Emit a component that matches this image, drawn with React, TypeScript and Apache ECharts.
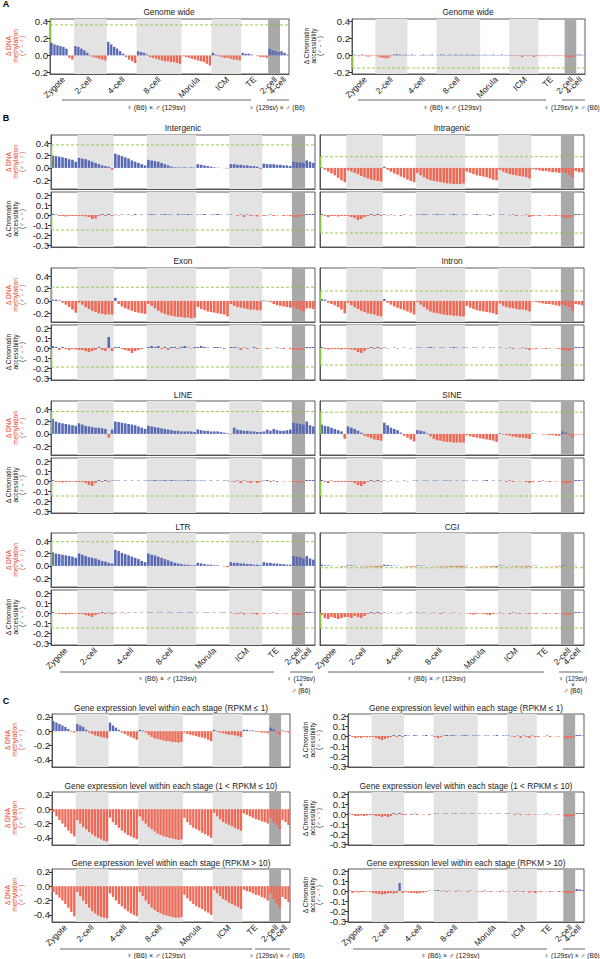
import React, { useEffect, useRef } from "react";
import * as echarts from "echarts";

const FONT = "'Liberation Sans', Arial, Helvetica, sans-serif";
const BLUE = "#5869b4";
const RED = "#ee6a56";
const GREEN = "#8cc63f";
const LIGHT = "#e3e3e3";
const DARK = "#a9a9a9";
const FRAME = "#4a4a4a";
const TEXT = "#222222";
const ORANGE_RED = "#e8452c";

const STAGE_LABELS = ["Zygote", "2-cell", "4-cell", "8-cell", "Morula", "ICM", "TE", "2-cell", "4-cell"];
const STAGE_COUNTS = [8, 11, 10, 15, 10, 10, 9, 4, 3];
const LIGHT_STAGES = [1, 3, 5];
const DARK_STAGES = [7];

const METH_TICKS = [-0.2, 0, 0.2, 0.4];
const ACC_TICKS = [-0.3, -0.2, -0.1, 0, 0.1, 0.2];
const C_METH_TICKS = [-0.4, -0.2, 0, 0.2];

// ---------- Panel A : genome wide ----------
const genomeMeth = [
  [0.15, 0.13, 0.12, 0.11, 0.1, 0.08, -0.03, -0.05],
  [0.11, 0.1, 0.08, 0.06, 0.03, -0.01, -0.02, -0.03, -0.04, -0.05, -0.06],
  [0.16, 0.13, 0.1, 0.08, 0.05, 0.02, -0.02, -0.05, -0.07, -0.09],
  [0.05, 0.04, 0.03, 0.01, -0.02, -0.03, -0.04, -0.05, -0.06, -0.07, -0.07, -0.08, -0.08, -0.09, -0.1],
  [-0.01, -0.02, -0.03, -0.04, -0.05, -0.06, -0.07, -0.08, -0.1, -0.12],
  [0.03, 0.01, -0.01, -0.02, -0.03, -0.03, -0.04, -0.05, -0.05, -0.06],
  [0.03, 0.02, 0.02, 0.01, 0.0, -0.01, -0.02, -0.02, -0.03],
  [0.08, 0.06, 0.05, 0.04],
  [0.05, 0.03, 0.01],
];
const genomeAcc = [
  [0.01, 0.005, -0.01, 0.01, -0.01, -0.015, -0.01, -0.005],
  [-0.01, -0.02, -0.03, -0.035, -0.03, -0.01, 0.01, 0.015, 0.01, -0.01, 0.01],
  [0.005, 0.01, 0.005, 0, 0.005, 0.01, -0.005, 0.005, 0.01, 0],
  [0.005, 0.01, 0.01, 0.005, 0.01, 0.005, 0.01, 0.005, 0.01, 0.005, 0.01, 0.005, 0.01, 0.005, 0.005],
  [0.005, 0.01, 0.005, 0.005, 0.01, 0.005, 0.005, 0.01, 0.005, 0.005],
  [0.005, -0.005, -0.01, 0.005, -0.02, 0.005, -0.01, 0.005, -0.02, 0.005],
  [-0.01, 0.005, -0.01, 0.005, -0.005, 0.005, -0.01, 0.005, -0.005],
  [-0.02, -0.025, -0.02, -0.015],
  [0.01, 0.01, 0.005],
];

// ---------- Panel B ----------
const intergenicMeth = [
  [0.2, 0.19, 0.18, 0.17, 0.16, 0.14, 0.13, 0.1],
  [0.16, 0.15, 0.14, 0.12, 0.1, 0.08, 0.06, 0.04, 0.03, 0.02, -0.03],
  [0.23, 0.21, 0.19, 0.17, 0.15, 0.12, 0.1, 0.08, 0.06, 0.04],
  [0.13, 0.12, 0.11, 0.1, 0.08, 0.06, 0.04, 0.02, 0.01, 0.01, 0.005, 0.01, 0.005, 0.01, 0.005],
  [0.06, 0.05, 0.04, 0.03, 0.02, 0.01, 0.005, 0, -0.005, -0.01],
  [0.06, 0.06, 0.05, 0.05, 0.04, 0.04, 0.03, 0.03, 0.02, -0.02],
  [0.07, 0.06, 0.06, 0.06, 0.05, 0.05, 0.04, 0.04, 0.03],
  [0.1, 0.09, 0.09, 0.08],
  [0.12, 0.1, 0.08],
];
const intergenicAcc = [
  [0.01, 0.005, -0.01, -0.01, -0.015, -0.01, -0.01, -0.01],
  [-0.01, -0.01, -0.015, -0.02, -0.04, -0.035, -0.01, 0.01, -0.01, 0.01, -0.01],
  [0.005, -0.005, 0.005, 0, 0.005, -0.005, 0.01, 0, 0.005, 0],
  [0.005, 0.01, 0.005, 0, 0.005, 0.01, 0.005, 0.005, 0, 0.01, 0.005, 0.005, 0.01, 0.005, 0],
  [0.005, 0.005, 0.01, 0, 0.005, 0.005, 0.01, 0.005, 0, 0.005],
  [0.005, 0, -0.01, 0.005, -0.02, 0.005, -0.01, -0.005, -0.015, 0],
  [-0.01, -0.005, 0.005, -0.01, -0.005, 0, -0.01, -0.005, -0.01],
  [-0.02, -0.02, -0.015, -0.01],
  [0.01, 0.01, 0.01],
];
const intragenicMeth = [
  [0.01, -0.03, -0.06, -0.09, -0.12, -0.16, -0.2, -0.23],
  [-0.04, -0.06, -0.08, -0.1, -0.13, -0.15, -0.17, -0.19, -0.2, -0.21, -0.22],
  [0.02, -0.03, -0.06, -0.09, -0.11, -0.14, -0.16, -0.19, -0.21, -0.23],
  [-0.08, -0.12, -0.15, -0.18, -0.2, -0.21, -0.22, -0.23, -0.24, -0.25, -0.25, -0.26, -0.26, -0.26, -0.25],
  [-0.06, -0.08, -0.1, -0.12, -0.13, -0.14, -0.15, -0.17, -0.19, -0.2],
  [-0.03, -0.06, -0.08, -0.1, -0.11, -0.12, -0.13, -0.14, -0.15, -0.17],
  [-0.02, -0.03, -0.04, -0.05, -0.05, -0.06, -0.07, -0.07, -0.08],
  [-0.06, -0.08, -0.11, -0.16],
  [-0.05, -0.07, -0.07],
];
const intragenicAcc = [
  [0.01, -0.01, -0.02, -0.01, -0.01, -0.015, -0.01, -0.01],
  [-0.01, -0.02, -0.03, -0.05, -0.04, -0.02, -0.01, 0.01, -0.01, 0.01, -0.01],
  [0.005, -0.005, 0.005, -0.005, 0, -0.01, 0.005, 0, -0.005, 0],
  [0.005, 0.005, 0.01, 0.005, 0, 0.005, 0.01, 0.005, 0.005, 0, 0.005, 0.01, 0.005, 0, 0.005],
  [0.005, 0, 0.005, 0.01, 0.005, 0, 0.005, -0.01, 0.005, 0],
  [0.005, 0.005, 0, -0.005, 0.005, -0.01, 0, -0.005, 0.005, -0.02],
  [-0.01, -0.005, -0.01, 0, -0.005, -0.01, -0.005, -0.01, -0.005],
  [-0.02, -0.03, -0.025, -0.015],
  [0.01, 0.01, 0.005],
];
const exonMeth = [
  [0.02, 0.02, 0.01, -0.03, -0.06, -0.1, -0.14, -0.19],
  [-0.03, -0.06, -0.1, -0.13, -0.16, -0.18, -0.2, -0.21, -0.22, -0.22, -0.22],
  [0.05, -0.05, -0.09, -0.12, -0.14, -0.16, -0.18, -0.19, -0.2, -0.21],
  [-0.05, -0.08, -0.12, -0.16, -0.19, -0.21, -0.23, -0.24, -0.25, -0.26, -0.26, -0.27, -0.27, -0.28, -0.27],
  [-0.1, -0.13, -0.15, -0.17, -0.18, -0.19, -0.2, -0.21, -0.22, -0.25],
  [-0.05, -0.08, -0.1, -0.11, -0.12, -0.13, -0.14, -0.14, -0.15, -0.15],
  [0.01, -0.01, -0.02, -0.05, -0.07, -0.08, -0.09, -0.1, -0.11],
  [-0.1, -0.13, -0.15, -0.17],
  [-0.12, -0.12, -0.13],
];
const exonAcc = [
  [0.02, 0.01, -0.02, 0.01, -0.01, -0.02, -0.01, -0.015],
  [-0.02, -0.02, -0.03, -0.04, -0.03, -0.02, 0.01, -0.02, -0.03, 0.11, -0.03],
  [0.01, 0.01, -0.01, -0.02, -0.03, -0.05, -0.03, -0.02, -0.01, 0],
  [0.01, 0.02, 0.01, 0.02, -0.01, 0.01, -0.02, 0.01, 0.01, -0.01, 0.01, 0.02, 0.005, -0.005, 0.01],
  [0.01, 0.02, 0.01, 0.005, 0, 0.01, 0.01, 0.005, -0.01, 0],
  [0.01, 0.01, 0.005, -0.02, 0.005, -0.01, 0, 0.01, -0.01, 0],
  [0, -0.01, -0.005, 0, 0.005, -0.005, -0.01, 0, -0.01],
  [-0.02, -0.02, -0.02, -0.015],
  [0.01, 0.01, 0.01],
];
const intronMeth = [
  [0.03, 0.02, -0.03, -0.05, -0.07, -0.1, -0.14, -0.2],
  [-0.03, -0.07, -0.1, -0.13, -0.16, -0.18, -0.2, -0.21, -0.22, -0.24, -0.25],
  [0.03, -0.03, -0.06, -0.09, -0.11, -0.13, -0.15, -0.17, -0.19, -0.22],
  [-0.02, -0.06, -0.1, -0.14, -0.17, -0.19, -0.2, -0.21, -0.22, -0.23, -0.23, -0.24, -0.24, -0.25, -0.25],
  [-0.08, -0.11, -0.13, -0.15, -0.16, -0.17, -0.18, -0.19, -0.2, -0.22],
  [-0.04, -0.08, -0.1, -0.11, -0.12, -0.13, -0.14, -0.14, -0.15, -0.17],
  [-0.01, -0.02, -0.03, -0.04, -0.05, -0.05, -0.06, -0.07, -0.08],
  [-0.06, -0.08, -0.1, -0.16],
  [-0.05, -0.06, -0.07],
];
const intronAcc = [
  [0.01, -0.01, -0.015, -0.01, -0.01, -0.01, -0.015, -0.01],
  [-0.01, -0.015, -0.02, -0.04, -0.05, -0.03, -0.01, 0.01, -0.01, 0.01, -0.01],
  [0.005, -0.005, 0, 0.005, -0.005, 0, 0.005, 0, -0.005, 0],
  [0.005, 0.005, 0, 0.005, 0.01, 0.005, 0, 0.005, 0.005, 0, 0.005, 0.01, 0.005, 0, 0.005],
  [0.005, 0, 0.005, 0.005, 0, 0.005, 0, 0.005, 0.005, 0],
  [0.005, 0, -0.005, 0.005, -0.01, 0, -0.005, 0.005, -0.01, -0.02],
  [-0.005, -0.01, 0, -0.005, -0.01, -0.005, 0, -0.005, -0.01],
  [-0.02, -0.025, -0.025, -0.015],
  [0.01, 0.01, 0.01],
];
const lineMeth = [
  [0.24, 0.2, 0.18, 0.17, 0.16, 0.15, 0.14, 0.13],
  [0.17, 0.15, 0.13, 0.12, 0.11, 0.1, 0.1, 0.09, 0.08, -0.06, 0.07],
  [0.2, 0.19, 0.18, 0.17, 0.16, 0.15, 0.14, 0.12, 0.1, 0.08],
  [0.13, 0.12, 0.11, 0.1, 0.09, 0.08, 0.07, 0.06, 0.05, 0.05, 0.04, 0.04, 0.04, 0.04, 0.03],
  [0.07, 0.06, 0.05, 0.05, 0.04, 0.04, 0.04, 0.03, 0.02, 0.01],
  [-0.01, 0.1, 0.07, 0.06, 0.05, 0.05, 0.04, 0.04, 0.03, 0.03],
  [0.04, 0.07, 0.05, 0.08, 0.06, 0.05, 0.05, 0.06, 0.07],
  [0.18, 0.17, 0.16, 0.15],
  [0.2, 0.14, 0.12],
];
const lineAcc = [
  [0.01, -0.01, -0.01, -0.015, -0.01, -0.01, -0.005, -0.01],
  [-0.01, -0.01, -0.02, -0.04, -0.05, -0.02, 0.01, -0.01, 0.01, -0.01, 0.005],
  [0.005, 0.005, 0, 0.005, 0, 0.005, 0, 0.005, 0, 0.005],
  [0.005, 0.005, 0.01, 0.005, 0.005, 0.01, 0.005, 0.01, 0.005, 0.005, 0.005, 0.005, 0.01, 0.005, 0.005],
  [0.005, 0.005, 0.005, 0, 0.005, 0, 0.005, 0, 0.005, 0.005],
  [-0.005, -0.01, 0.005, -0.02, 0.005, -0.01, -0.02, -0.005, -0.02, -0.01],
  [0.005, 0.01, -0.01, 0.005, -0.01, 0, -0.005, 0, -0.005],
  [-0.01, -0.015, -0.015, -0.01],
  [0.01, 0.01, 0.01],
];
const sineMeth = [
  [0.15, 0.13, 0.12, 0.1, 0.08, 0.06, 0.04, -0.08],
  [0.12, 0.1, 0.08, 0.05, 0.02, -0.03, -0.05, -0.07, -0.09, -0.1, -0.11],
  [0.18, 0.14, 0.1, 0.08, 0.06, 0.02, -0.03, -0.06, -0.09, -0.12],
  [0.06, 0.05, 0.04, 0.01, -0.04, -0.08, -0.1, -0.11, -0.12, -0.13, -0.13, -0.14, -0.14, -0.14, -0.14],
  [-0.02, -0.04, -0.05, -0.06, -0.07, -0.08, -0.09, -0.1, -0.11, -0.13],
  [0.01, -0.01, -0.02, -0.03, -0.04, -0.05, -0.06, -0.06, -0.07, -0.08],
  [0.01, 0.005, 0, -0.01, -0.01, -0.02, -0.02, -0.03, -0.03],
  [0.04, 0.02, -0.02, -0.06],
  [-0.01, -0.01, -0.01],
];
const sineAcc = [
  [0.01, -0.01, -0.02, 0.005, -0.01, -0.01, -0.01, -0.01],
  [-0.01, -0.01, -0.02, -0.04, -0.05, -0.03, -0.01, 0.01, -0.01, 0.01, -0.01],
  [0.005, -0.005, 0.005, 0, -0.005, 0, 0.005, -0.005, 0, 0.005],
  [0.005, 0, 0.005, 0.005, 0, 0.005, 0.005, 0, 0.005, 0.005, 0.005, 0, 0.005, 0, 0.005],
  [0.005, 0, 0.005, 0.005, 0, 0.005, 0.01, 0, 0.005, 0],
  [0.005, 0, -0.01, 0.005, -0.01, 0, -0.005, 0, -0.01, -0.02],
  [-0.01, 0, -0.01, 0.005, -0.005, -0.01, 0, -0.005, 0],
  [-0.02, -0.025, -0.02, -0.01],
  [0.01, 0.01, 0.005],
];
const ltrMeth = [
  [0.22, 0.2, 0.19, 0.18, 0.17, 0.16, 0.15, 0.13],
  [0.2, 0.18, 0.16, 0.14, 0.13, 0.12, 0.1, 0.08, 0.07, 0.05, 0.04],
  [0.26, 0.24, 0.21, 0.19, 0.17, 0.15, 0.13, 0.11, 0.08, 0.06],
  [0.2, 0.18, 0.17, 0.15, 0.13, 0.11, 0.09, 0.07, 0.05, 0.04, 0.03, 0.02, 0.02, 0.01, 0.01],
  [0.05, 0.04, 0.03, 0.02, 0.02, 0.01, 0.01, 0, -0.01, -0.02],
  [0.06, 0.05, 0.05, 0.04, 0.04, 0.03, 0.03, 0.02, 0.02, 0.01],
  [0.06, 0.05, 0.05, 0.04, 0.04, 0.03, 0.03, 0.02, 0.02],
  [0.16, 0.15, 0.14, 0.12],
  [0.16, 0.12, 0.1],
];
const ltrAcc = [
  [0.01, -0.005, -0.01, -0.01, -0.015, -0.01, -0.01, -0.005],
  [-0.01, -0.01, -0.02, -0.03, -0.04, -0.02, -0.01, 0.01, -0.01, 0.005, -0.01],
  [0.005, 0, 0.005, -0.005, 0.005, 0, 0.005, 0, 0.005, 0],
  [0.005, 0.005, 0, 0.005, 0.005, 0, 0.005, 0.005, 0, 0.005, 0.005, 0, 0.005, 0.005, 0],
  [0.005, 0, 0.005, 0.005, 0, 0.005, 0, 0.005, 0.005, 0],
  [0.005, -0.005, -0.01, 0.005, -0.015, 0, -0.005, -0.01, -0.015, 0],
  [-0.01, 0, -0.005, 0.005, -0.01, 0, -0.005, -0.005, 0],
  [-0.015, -0.02, -0.02, -0.01],
  [0.01, 0.01, 0.005],
];
const cgiMeth = [
  [0.02, 0.01, 0.01, 0.005, 0, -0.005, -0.01, -0.01],
  [0.01, 0.01, 0.005, 0, -0.005, -0.01, -0.01, -0.01, -0.015, -0.02, -0.02],
  [0.02, 0.015, 0.01, 0.005, 0.005, 0, -0.005, -0.01, -0.01, -0.015],
  [0.01, 0.005, 0.005, 0, 0, -0.005, -0.005, -0.01, -0.01, -0.01, -0.015, -0.015, -0.015, -0.02, -0.02],
  [0.005, 0, 0, -0.005, -0.005, -0.01, -0.01, -0.01, -0.015, -0.02],
  [0.01, 0.005, 0, -0.005, -0.005, -0.01, -0.01, -0.01, -0.015, -0.015],
  [0.005, 0.005, 0, 0, -0.005, -0.005, -0.005, -0.01, -0.01],
  [0.01, 0.005, 0, -0.005],
  [0.005, 0, -0.005],
];
const cgiAcc = [
  [-0.02, -0.05, -0.06, -0.04, -0.05, -0.06, -0.05, -0.04],
  [-0.04, -0.05, -0.03, -0.04, -0.05, -0.03, -0.01, 0.01, -0.01, 0.01, -0.01],
  [0.005, -0.005, 0.005, 0, -0.005, 0.005, 0, -0.005, 0.005, 0],
  [0.005, -0.005, 0.005, 0, -0.005, 0.005, 0, -0.01, 0.005, 0, -0.005, 0.005, 0, -0.005, 0],
  [-0.005, -0.01, -0.015, -0.01, -0.005, -0.01, -0.015, -0.02, -0.01, -0.005],
  [0.005, -0.005, 0, -0.01, 0.005, -0.005, -0.01, 0, -0.005, -0.01],
  [-0.005, -0.01, 0, -0.005, -0.01, -0.005, 0, -0.01, -0.005],
  [-0.01, -0.02, -0.02, -0.01],
  [0.01, 0.01, 0.005],
];

// ---------- Panel C ----------
const lowExprMeth = [
  [0.14, 0.12, 0.1, 0.08, 0.06, 0.03, -0.01, -0.02],
  [0.1, 0.08, 0.06, 0.02, -0.02, -0.04, -0.06, -0.07, -0.08, -0.09, -0.1],
  [0.12, 0.08, 0.05, 0.02, -0.02, -0.04, -0.06, -0.08, -0.1, -0.12],
  [0.02, 0.01, -0.02, -0.05, -0.08, -0.1, -0.11, -0.12, -0.13, -0.14, -0.14, -0.15, -0.15, -0.16, -0.15],
  [-0.02, -0.04, -0.05, -0.06, -0.07, -0.08, -0.09, -0.1, -0.12, -0.14],
  [0.02, -0.01, -0.02, -0.03, -0.04, -0.05, -0.05, -0.06, -0.07, -0.08],
  [0.02, 0.02, 0.01, 0.01, -0.01, -0.01, -0.02, -0.02, -0.03],
  [0.05, 0.03, -0.02, -0.05],
  [0.01, -0.01, -0.02],
];
const lowExprAcc = [
  [0.01, -0.01, -0.02, -0.015, -0.02, -0.01, -0.015, -0.01],
  [-0.01, -0.02, -0.03, -0.04, -0.03, -0.02, -0.01, 0.01, -0.01, 0.01, -0.01],
  [0.01, 0.005, 0, 0.01, 0.005, 0, 0.005, 0.01, 0, 0.005],
  [-0.01, -0.02, -0.01, 0.005, 0.01, 0.005, 0.01, 0.005, 0, 0.005, 0.01, 0.005, 0, 0.005, 0.005],
  [0.005, 0, 0.005, 0.005, 0, 0.005, 0.01, 0, 0.005, 0.005],
  [0.005, -0.005, -0.01, 0.005, -0.02, 0.005, -0.01, -0.02, 0.005, -0.01],
  [-0.01, 0, -0.005, 0.005, -0.01, 0, -0.005, -0.005, 0],
  [-0.02, -0.025, -0.02, -0.015],
  [0.01, 0.01, 0.005],
];
const midExprMeth = [
  [-0.04, -0.1, -0.15, -0.2, -0.25, -0.3, -0.34, -0.38],
  [-0.15, -0.2, -0.25, -0.28, -0.32, -0.35, -0.38, -0.4, -0.42, -0.44, -0.45],
  [-0.12, -0.18, -0.22, -0.26, -0.3, -0.33, -0.36, -0.38, -0.4, -0.42],
  [-0.1, -0.16, -0.2, -0.25, -0.28, -0.31, -0.34, -0.36, -0.38, -0.39, -0.4, -0.41, -0.42, -0.43, -0.42],
  [-0.12, -0.18, -0.22, -0.26, -0.28, -0.3, -0.33, -0.35, -0.37, -0.4],
  [-0.05, -0.1, -0.14, -0.18, -0.2, -0.22, -0.24, -0.26, -0.28, -0.3],
  [-0.06, -0.08, -0.1, -0.12, -0.14, -0.15, -0.17, -0.18, -0.2],
  [-0.12, -0.18, -0.22, -0.28],
  [-0.15, -0.18, -0.22],
];
const midExprAcc = [
  [0.005, -0.01, -0.02, -0.02, -0.015, -0.02, -0.015, -0.01],
  [-0.01, -0.02, -0.02, -0.03, -0.02, -0.03, -0.02, 0.01, -0.01, 0.01, -0.01],
  [-0.01, 0, -0.01, 0.005, -0.01, 0, -0.005, 0, -0.01, 0],
  [0.005, 0.005, 0, 0.005, 0.005, 0, 0.005, 0.005, 0, 0.005, 0.005, 0, 0.005, 0.005, 0],
  [0.005, 0, 0.005, 0, 0.005, 0, 0.005, 0.005, 0, 0.005],
  [0.005, 0, -0.01, 0.005, -0.01, 0, -0.005, -0.01, 0, -0.005],
  [-0.005, 0, -0.005, 0.005, -0.005, 0, -0.005, -0.005, 0],
  [-0.02, -0.03, -0.025, -0.02],
  [0.01, 0.01, 0.01],
];
const highExprMeth = [
  [-0.08, -0.12, -0.16, -0.2, -0.25, -0.3, -0.36, -0.42],
  [-0.08, -0.14, -0.2, -0.25, -0.3, -0.35, -0.38, -0.41, -0.43, -0.44, -0.45],
  [-0.1, -0.15, -0.2, -0.25, -0.28, -0.32, -0.35, -0.38, -0.4, -0.42],
  [-0.08, -0.14, -0.2, -0.25, -0.3, -0.33, -0.36, -0.38, -0.4, -0.41, -0.42, -0.43, -0.44, -0.44, -0.43],
  [-0.12, -0.17, -0.21, -0.25, -0.28, -0.3, -0.32, -0.35, -0.37, -0.4],
  [-0.05, -0.1, -0.14, -0.18, -0.2, -0.23, -0.25, -0.27, -0.29, -0.32],
  [-0.05, -0.07, -0.08, -0.1, -0.12, -0.13, -0.15, -0.17, -0.2],
  [-0.1, -0.18, -0.24, -0.3],
  [-0.15, -0.18, -0.22],
];
const highExprAcc = [
  [0.005, -0.02, -0.01, -0.015, -0.01, -0.01, -0.005, -0.01],
  [-0.02, -0.025, -0.03, -0.035, -0.03, -0.025, -0.02, -0.025, -0.02, 0.08, -0.02],
  [-0.01, -0.015, -0.02, -0.02, -0.025, -0.02, -0.015, -0.01, 0.005, 0],
  [0.005, 0.01, -0.005, 0.005, -0.01, 0.005, 0, -0.01, 0.005, -0.005, 0, -0.01, 0.005, 0, -0.005],
  [-0.005, -0.01, 0.005, -0.005, -0.01, 0, -0.005, -0.01, 0.005, -0.005],
  [-0.005, 0, -0.01, 0.005, -0.005, -0.01, 0, -0.015, -0.005, -0.02],
  [-0.005, -0.01, 0, -0.005, -0.01, -0.005, 0, -0.01, -0.005],
  [-0.015, -0.02, -0.02, -0.015],
  [0.02, 0.015, 0.01],
];

// thresholds (green dashed lines)
const THRESHOLDS = {
  genomeMeth: 0.36, genomeAcc: -0.15,
  intergenicMeth: 0.37, intergenicAcc: -0.15,
  intragenicMeth: 0.18, intragenicAcc: -0.18,
  exonMeth: 0.22, exonAcc: -0.19,
  intronMeth: 0.16, intronAcc: -0.17,
  lineMeth: 0.36, lineAcc: -0.15,
  sineMeth: 0.35, sineAcc: -0.15,
  ltrMeth: 0.39, ltrAcc: -0.15,
  cgiMeth: -0.03, cgiAcc: -0.15,
};

// ---------- layout ----------
type Panel = {
  values: number[][];
  x: number; y: number; w: number; h: number;
  yMin: number; yMax: number; ticks: number[];
  showY: boolean; showX: boolean;
  thr: number | null; seg: [number, number] | null;
};

const B_ROWS = [135, 268, 401, 533];
const C_ROWS = [714, 792, 869];
const BL = { x: 51, w: 264 };
const BR = { x: 320, w: 264 };
const CL = { x: 52, w: 238 };
const CR = { x: 348, w: 236 };

function bPair(row: number, side: { x: number; w: number }, meth: number[][], acc: number[][], tm: number, ta: number, showY: boolean, showX: boolean): Panel[] {
  const top = B_ROWS[row];
  return [
    { values: meth, x: side.x, y: top, w: side.w, h: 54, yMin: -0.34, yMax: 0.53, ticks: METH_TICKS, showY, showX: false, thr: tm, seg: tm > 0 ? [0, tm] : null },
    { values: acc, x: side.x, y: top + 57, w: side.w, h: 55, yMin: -0.32, yMax: 0.23, ticks: ACC_TICKS, showY, showX, thr: ta, seg: [ta, 0] },
  ];
}

const PANELS: Panel[] = [
  { values: genomeMeth, x: 50, y: 19, w: 239, h: 55, yMin: -0.22, yMax: 0.43, ticks: METH_TICKS, showY: true, showX: true, thr: THRESHOLDS.genomeMeth, seg: [0.15, 0.43] },
  { values: genomeAcc, x: 352, y: 19, w: 233, h: 55, yMin: -0.22, yMax: 0.43, ticks: METH_TICKS, showY: true, showX: true, thr: THRESHOLDS.genomeAcc, seg: [-0.15, 0] },
  ...bPair(0, BL, intergenicMeth, intergenicAcc, THRESHOLDS.intergenicMeth, THRESHOLDS.intergenicAcc, true, false),
  ...bPair(0, BR, intragenicMeth, intragenicAcc, THRESHOLDS.intragenicMeth, THRESHOLDS.intragenicAcc, false, false),
  ...bPair(1, BL, exonMeth, exonAcc, THRESHOLDS.exonMeth, THRESHOLDS.exonAcc, true, false),
  ...bPair(1, BR, intronMeth, intronAcc, THRESHOLDS.intronMeth, THRESHOLDS.intronAcc, false, false),
  ...bPair(2, BL, lineMeth, lineAcc, THRESHOLDS.lineMeth, THRESHOLDS.lineAcc, true, false),
  ...bPair(2, BR, sineMeth, sineAcc, THRESHOLDS.sineMeth, THRESHOLDS.sineAcc, false, false),
  ...bPair(3, BL, ltrMeth, ltrAcc, THRESHOLDS.ltrMeth, THRESHOLDS.ltrAcc, true, true),
  ...bPair(3, BR, cgiMeth, cgiAcc, THRESHOLDS.cgiMeth, THRESHOLDS.cgiAcc, false, true),
  { values: lowExprMeth, x: CL.x, y: C_ROWS[0], w: CL.w, h: 53, yMin: -0.5, yMax: 0.24, ticks: C_METH_TICKS, showY: true, showX: false, thr: null, seg: null },
  { values: midExprMeth, x: CL.x, y: C_ROWS[1], w: CL.w, h: 53, yMin: -0.5, yMax: 0.24, ticks: C_METH_TICKS, showY: true, showX: false, thr: null, seg: null },
  { values: highExprMeth, x: CL.x, y: C_ROWS[2], w: CL.w, h: 53, yMin: -0.5, yMax: 0.24, ticks: C_METH_TICKS, showY: true, showX: true, thr: null, seg: null },
  { values: lowExprAcc, x: CR.x, y: C_ROWS[0], w: CR.w, h: 53, yMin: -0.31, yMax: 0.22, ticks: ACC_TICKS, showY: true, showX: false, thr: null, seg: null },
  { values: midExprAcc, x: CR.x, y: C_ROWS[1], w: CR.w, h: 53, yMin: -0.31, yMax: 0.22, ticks: ACC_TICKS, showY: true, showX: false, thr: null, seg: null },
  { values: highExprAcc, x: CR.x, y: C_ROWS[2], w: CR.w, h: 53, yMin: -0.31, yMax: 0.22, ticks: ACC_TICKS, showY: true, showX: true, thr: null, seg: null },
];

const TITLES = [
  { text: "Genome wide", x: 169, y: 12 },
  { text: "Genome wide", x: 468, y: 12 },
  { text: "Intergenic", x: 183, y: 128 },
  { text: "Intragenic", x: 452, y: 128 },
  { text: "Exon", x: 183, y: 261 },
  { text: "Intron", x: 452, y: 261 },
  { text: "LINE", x: 183, y: 395 },
  { text: "SINE", x: 452, y: 395 },
  { text: "LTR", x: 183, y: 527 },
  { text: "CGI", x: 452, y: 527 },
  { text: "Gene expression level within each stage (RPKM \u2264 1)", x: 171, y: 708 },
  { text: "Gene expression level within each stage (1 < RPKM \u2264 10)", x: 171, y: 786 },
  { text: "Gene expression level within each stage (RPKM > 10)", x: 171, y: 863 },
  { text: "Gene expression level within each stage (RPKM \u2264 1)", x: 466, y: 708 },
  { text: "Gene expression level within each stage (1 < RPKM \u2264 10)", x: 466, y: 786 },
  { text: "Gene expression level within each stage (RPKM > 10)", x: 466, y: 863 },
];

// y-axis names: [kind, cx, cy]
const YNAMES: [string, number, number][] = [
  ["meth", 15, 46], ["acc", 313, 46],
  ...B_ROWS.flatMap((t) => [["meth", 15, t + 27], ["acc", 15, t + 84]] as [string, number, number][]),
  ["meth", 14, 740], ["meth", 14, 818], ["meth", 14, 895],
  ["acc", 312, 740], ["acc", 312, 818], ["acc", 312, 895],
];

const CROSS_MAIN = "\u2640 (B6) \u00d7 \u2642 (129sv)";
const CROSS_RECIP = "\u2640 (129sv) \u00d7 \u2642 (B6)";

function buildOption() {
  const starts: number[] = [];
  let acc = 0;
  STAGE_COUNTS.forEach((c) => { starts.push(acc); acc += c; });
  const N = acc;
  const cats = Array.from({ length: N }, (_, i) => String(i));
  const labelAt: Record<number, string> = {};
  STAGE_LABELS.forEach((l, i) => { labelAt[starts[i] + Math.floor(STAGE_COUNTS[i] / 2)] = l; });

  const grid: any[] = [], xAxis: any[] = [], yAxis: any[] = [], series: any[] = [];
  const fmt = (v: number) => (Math.abs(v) < 1e-9 ? 0 : v).toFixed(1);

  // kind 0: light band, 1: dark band, 2: green vertical segment at the y axis, 3: dashed threshold line
  const renderBands = (params: any, api: any) => {
    const kind = api.value(2);
    const cs = params.coordSys;
    if (kind === 2) {
      const ya = api.coord([0, api.value(3)])[1];
      const yb = api.coord([0, api.value(4)])[1];
      return { type: "line", shape: { x1: cs.x + 0.7, y1: ya, x2: cs.x + 0.7, y2: yb }, style: { stroke: GREEN, lineWidth: 1.3 }, silent: true, z2: 20 };
    }
    if (kind === 3) {
      const y = api.coord([0, api.value(3)])[1];
      return { type: "line", shape: { x1: cs.x, y1: y, x2: cs.x + cs.width, y2: y }, style: { stroke: GREEN, lineWidth: 0.9, lineDash: [3, 2] }, silent: true, z2: 20 };
    }
    const bw = api.size([1, 0])[0];
    const xa = api.coord([api.value(0), 0])[0] - bw / 2;
    const xb = api.coord([api.value(1) - 1, 0])[0] + bw / 2;
    return { type: "rect", shape: { x: xa, y: cs.y, width: xb - xa, height: cs.height }, style: { fill: kind === 1 ? DARK : LIGHT }, silent: true };
  };

  PANELS.forEach((p, i) => {
    grid.push({ left: p.x, top: p.y, width: p.w, height: p.h, show: true, borderColor: FRAME, borderWidth: 0.9, containLabel: false });
    xAxis.push({
      type: "category", gridIndex: i, data: cats, boundaryGap: true,
      axisLine: { show: true, onZero: false, lineStyle: { color: FRAME, width: 0.9 } },
      axisTick: { show: false }, splitLine: { show: false },
      axisLabel: p.showX ? {
        show: true, interval: 0,
        formatter: (_v: string, idx: number) => labelAt[idx] ?? "",
        rotate: 45, fontSize: 8.5, color: TEXT, fontFamily: FONT, margin: 4, hideOverlap: false,
      } : { show: false },
    });
    yAxis.push({
      type: "value", gridIndex: i, min: p.yMin, max: p.yMax,
      axisLine: { show: true, onZero: false, lineStyle: { color: FRAME, width: 0.9 } },
      axisTick: { show: p.showY, length: 3, customValues: p.ticks, lineStyle: { color: "#333" } },
      axisLabel: { show: p.showY, customValues: p.ticks, formatter: fmt, fontSize: 9.5, color: TEXT, fontFamily: FONT, margin: 2 },
      splitLine: { show: false },
    });
    const bandData: number[][] = [];
    LIGHT_STAGES.forEach((s) => bandData.push([starts[s], starts[s] + STAGE_COUNTS[s], 0, 0, 0]));
    DARK_STAGES.forEach((s) => bandData.push([starts[s], starts[s] + STAGE_COUNTS[s], 1, 0, 0]));
    series.push({
      type: "custom", xAxisIndex: i, yAxisIndex: i, data: bandData, renderItem: renderBands,
      z: 1, silent: true, clip: false,
    });
    series.push({
      type: "bar", xAxisIndex: i, yAxisIndex: i, data: p.values.flat(), barCategoryGap: "22%", z: 3, silent: true,
      itemStyle: { color: (d: any) => (d.value >= 0 ? BLUE : RED) },
    });
    const lineData: number[][] = [];
    if (p.thr !== null) lineData.push([0, 1, 3, p.thr, 0]);
    if (p.seg) lineData.push([0, 1, 2, p.seg[0], p.seg[1]]);
    if (lineData.length) {
      series.push({
        type: "custom", xAxisIndex: i, yAxisIndex: i, data: lineData, renderItem: renderBands,
        z: 5, silent: true, clip: false,
      });
    }
  });

  const graphic: any[] = [];
  const txt = (text: string, x: number, y: number, size: number, extra: any = {}) => ({
    type: "text", x, y, silent: true,
    style: { text, fontSize: size, fontFamily: FONT, fill: TEXT, align: "center", verticalAlign: "middle", ...extra },
  });
  // panel letters
  graphic.push(txt("A", 6, 4, 9, { fontWeight: "bold", fill: "#000" }));
  graphic.push(txt("B", 6, 118, 9, { fontWeight: "bold", fill: "#000" }));
  graphic.push(txt("C", 6, 701, 9, { fontWeight: "bold", fill: "#000" }));
  TITLES.forEach((t) => graphic.push(txt(t.text, t.x, t.y, 8.3)));

  YNAMES.forEach(([kind, cx, cy]) => {
    const text = kind === "meth"
      ? "{r|\u0394 DNA}\n{r|methylation}\n{r|(}{b|\u2642}{r| - \u2640)}"
      : "{k|\u0394 Chromatin}\n{k|accessibility}\n{k|(}{b|\u2642}{k| - }{r|\u2640}{k|)}";
    const fs = 6.6, lh = 6.6;
    graphic.push({
      type: "text", x: cx, y: cy, rotation: Math.PI / 2, silent: true,
      style: {
        text, fontSize: fs, fontFamily: FONT, align: "center", verticalAlign: "middle", lineHeight: lh,
        rich: {
          r: { fill: ORANGE_RED, fontSize: fs, fontFamily: FONT, lineHeight: lh },
          b: { fill: "#3f51b5", fontSize: fs, fontFamily: FONT, lineHeight: lh },
          k: { fill: "#222", fontSize: fs, fontFamily: FONT, lineHeight: lh },
        },
      },
    });
  });

  // cross labels with underline bars
  const bar = (x1: number, x2: number, y: number) => ({
    type: "line", silent: true, shape: { x1, y1: y, x2, y2: y }, style: { stroke: "#555", lineWidth: 0.9 },
  });
  // A
  graphic.push(bar(62, 251, 100), bar(267, 289, 100), bar(358, 546, 100), bar(562, 585, 100));
  graphic.push(txt(CROSS_MAIN, 156, 107, 7), txt(CROSS_RECIP, 277, 107, 6.6), txt(CROSS_MAIN, 452, 107, 7), txt(CROSS_RECIP, 572, 107, 6.6));
  // B
  graphic.push(bar(60, 274, 672), bar(290, 313, 672), bar(328, 544, 672), bar(559, 583, 672));
  graphic.push(txt(CROSS_MAIN, 167, 678, 7), txt(CROSS_MAIN, 436, 678, 7));
  graphic.push(txt("\u2640 (129sv)", 301, 678, 6.5), txt("\u00d7", 301, 684, 6.5), txt("\u2642 (B6)", 301, 690, 6.5));
  graphic.push(txt("\u2640 (129sv)", 573, 678, 6.5), txt("\u00d7", 573, 684, 6.5), txt("\u2642 (B6)", 573, 690, 6.5));
  // C
  graphic.push(bar(60, 252, 949), bar(255, 290, 949), bar(353, 547, 949), bar(563, 585, 949));
  graphic.push(txt(CROSS_MAIN, 156, 955, 7), txt(CROSS_RECIP, 277, 955, 6.6), txt(CROSS_MAIN, 450, 955, 7), txt(CROSS_RECIP, 572, 955, 6.6));

  return {
    animation: false,
    backgroundColor: "#ffffff",
    textStyle: { fontFamily: FONT },
    grid, xAxis, yAxis, series, graphic,
  };
}

export default function App() {
  const ref = useRef<HTMLDivElement | null>(null);
  useEffect(() => {
    if (!ref.current) return;
    const chart = echarts.init(ref.current, undefined, { renderer: "svg" });
    chart.setOption(buildOption() as any);
    return () => chart.dispose();
  }, []);
  return <div ref={ref} style={{ position: "absolute", left: 0, top: 0, width: 600, height: 959 }} />;
}
